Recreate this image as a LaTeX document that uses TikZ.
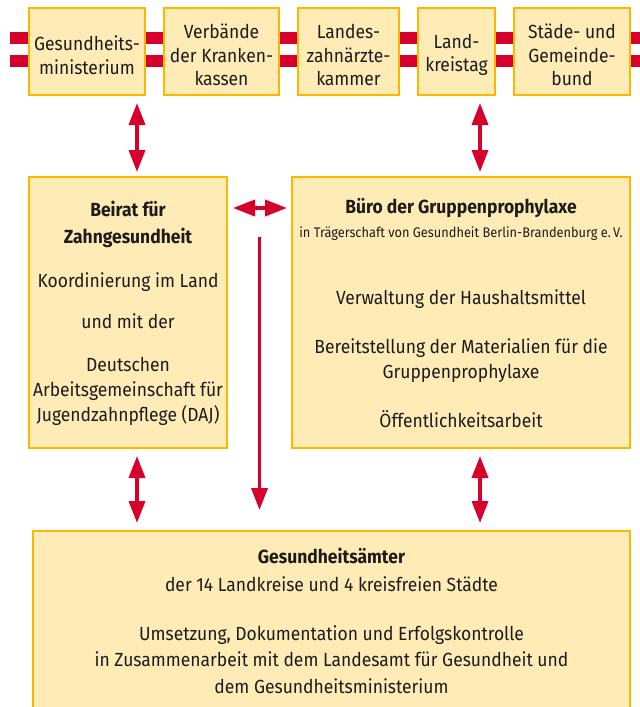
\documentclass[tikz,border=0pt]{standalone}
\usepackage{fontspec}
\setmainfont[FakeStretch=0.92]{Fira Sans}
\usetikzlibrary{arrows.meta}
\definecolor{boxfill}{HTML}{FEEBB6}
\definecolor{boxline}{HTML}{FBB800}
\definecolor{arrred}{HTML}{D5002C}
\definecolor{txt}{HTML}{1C1C1C}
\tikzset{
  box/.style={draw=boxline, fill=boxfill, line width=2.5pt, inner sep=0pt},
  toptext/.style={font=\fontsize{19}{23.5}\selectfont, align=center, text=txt, inner sep=0pt},
  line/.style={font=\fontsize{19}{23}\selectfont, text=txt, anchor=base, inner sep=0pt},
  boldline/.style={line, font=\fontsize{19}{23}\selectfont\bfseries},
  smallline/.style={line, font=\fontsize{13.9}{16}\selectfont},
  bar/.style={fill=arrred, draw=none},
  tipA/.tip={Triangle[length=22pt,width=16pt]},
  dblarrow/.style={draw=arrred, fill=arrred, line width=3.6pt, {tipA}-{tipA}},
  onearrow/.style={draw=arrred, fill=arrred, line width=3.6pt, -{tipA}},
}
\begin{document}
\begin{tikzpicture}[x=1pt,y=-1pt]
\useasboundingbox (0,0) rectangle (640,707);
% red bars behind top row
\fill[bar] (10,32) rectangle (640,44);
\fill[bar] (10,55) rectangle (640,67);
% top boxes
\node[box, minimum width=116pt, minimum height=87pt] (gm) at (87,51.5) {};
\node[box, minimum width=115pt, minimum height=87pt] (vk) at (221.5,51.5) {};
\node[box, minimum width=101pt, minimum height=87pt] (lz) at (348.5,51.5) {};
\node[box, minimum width=77pt, minimum height=87pt] (lk) at (456.5,51.5) {};
\node[box, minimum width=116pt, minimum height=87pt] (sg) at (572,51.5) {};
\node[toptext] (gmt) at (87,55) {Gesundheits-\\ministerium};
\node[toptext] (vkt) at (221.5,55) {Verbände\\der Kranken-\\kassen};
\node[toptext] (lzt) at (348.5,55) {Landes-\\zahnärzte-\\kammer};
\node[toptext] (lkt) at (456.5,55) {Land-\\kreistag};
\node[toptext] (sgt) at (572,55) {Städe- und\\Gemeinde-\\bund};
% middle boxes
\node[box, minimum width=198pt, minimum height=271pt] (beirat) at (128,312.5) {};
\node[box, minimum width=338pt, minimum height=271pt] (buero) at (461,312.5) {};
\node[boldline] (b1) at (128,216.5) {Beirat für};
\node[boldline] (b2) at (128,243) {Zahngesundheit};
\node[line] (b3) at (128,287) {Koordinierung im Land};
\node[line] (b4) at (128,328) {und mit der};
\node[line] (b5) at (128,371.5) {Deutschen};
\node[line] (b6) at (128,396.5) {Arbeitsgemeinschaft für};
\node[line] (b7) at (128,421.5) {Jugendzahnpflege (DAJ)};
\node[boldline] (r1) at (461,213) {Büro der Gruppenprophylaxe};
\node[smallline] (r2) at (461,237) {in Trägerschaft von Gesundheit Berlin-Brandenburg e.\,V.};
\node[line] (r3) at (461,304) {Verwaltung der Haushaltsmittel};
\node[line] (r4) at (461,353) {Bereitstellung der Materialien für die};
\node[line] (r5) at (461,378.5) {Gruppenprophylaxe};
\node[line] (r6) at (461,427) {Öffentlichkeitsarbeit};
% bottom box
\node[box, minimum width=597pt, minimum height=189pt] (ga) at (331.5,625.5) {};
\node[boldline] (g1) at (331.5,563) {Gesundheitsämter};
\node[line] (g2) at (331.5,591) {der 14 Landkreise und 4 kreisfreien Städte};
\node[line] (g3) at (331.5,640) {Umsetzung, Dokumentation und Erfolgskontrolle};
\node[line] (g4) at (331.5,666.5) {in Zusammenarbeit mit dem Landesamt für Gesundheit und};
\node[line] (g5) at (331.5,693) {dem Gesundheitsministerium};
% arrow end points
\coordinate (a1t) at (137,103);
\coordinate (a1b) at (137,172);
\coordinate (a2t) at (480,103);
\coordinate (a2b) at (480,172);
\coordinate (hl) at (233,208);
\coordinate (hr) at (287,208);
\coordinate (dt) at (259.5,237);
\coordinate (db) at (259.5,510);
\coordinate (a3t) at (137,456);
\coordinate (a3b) at (137,523);
\coordinate (a4t) at (480,456);
\coordinate (a4b) at (480,523);
\draw[dblarrow] (a1t) -- (a1b);
\draw[dblarrow] (a2t) -- (a2b);
\draw[dblarrow] (hl) -- (hr);
\draw[onearrow] (dt) -- (db);
\draw[dblarrow] (a3t) -- (a3b);
\draw[dblarrow] (a4t) -- (a4b);
\end{tikzpicture}
\end{document}
